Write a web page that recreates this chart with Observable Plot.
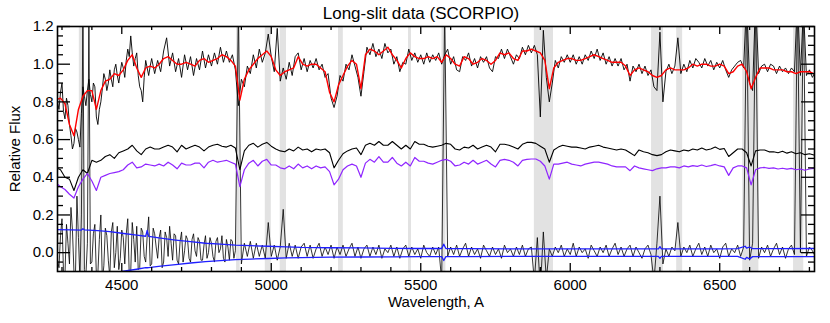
<!DOCTYPE html>
<html><head><meta charset="utf-8">
<script src="https://cdn.jsdelivr.net/npm/d3@7"></script>
<script src="https://cdn.jsdelivr.net/npm/@observablehq/plot@0.6"></script>
<style>body{margin:0;background:#fff}svg{display:block}</style>
</head><body><div id="chart"></div>
<script>
const title = "Long-slit data (SCORPIO)";
const xLabel = "Wavelength, A";
const yLabel = "Relative Flux";
const xMajorTicks = [4500, 5000, 5500, 6000, 6500];
const xMinorTicks = [4300,4400,4600,4700,4800,4900,5100,5200,5300,5400,5600,5700,5800,5900,6100,6200,6300,6400,6600,6700,6800];
const yMajorTicks = [0.0, 0.2, 0.4, 0.6, 0.8, 1.0, 1.2];
const yMinorTicks = [-0.05,0.05,0.1,0.15,0.25,0.3,0.35,0.45,0.5,0.55,0.65,0.7,0.75,0.85,0.9,0.95,1.05,1.1,1.15];

// masked wavelength intervals (grey bands)
const bandStart = [4358, 4884, 4980, 5030, 5225, 5459, 5571, 5880, 6272, 6356, 6577, 6747];
const bandEnd   = [4375, 4896, 5000, 5051, 5241, 5469, 5584, 5944, 6312, 6376, 6631, 6781];

// observed spectrum, 10 A sampling starting at 4280 A
const obsStart = 4280, obsStep = 10;
const obsFlux = [
 .86,.76,.90,.71,.78,.62,.58,.64,.56,.88,
 .78,.92,.80,.88,.68,.80,.95,.86,.97,.88,
 1.00,.90,1.01,.93,1.08,1.15,.99,1.06,.88,.80,
 1.02,.94,1.03,.95,1.02,.96,1.07,1.14,.99,1.06,
 .96,1.03,.93,1.05,.97,1.04,.94,1.03,.97,1.07,
 .98,1.05,.99,1.06,1.00,1.09,1.01,1.07,1.01,1.05,
 .97,.78,.92,.88,.99,.95,1.05,.98,1.08,1.01,
 1.06,1.16,1.04,.96,1.19,.91,.98,.92,1.01,.94,
 1.04,1.06,.97,1.03,.96,1.02,.98,1.03,.97,1.00,
 .93,.95,.82,.77,.83,.94,.91,1.00,.97,1.05,
 .99,.93,.83,.96,1.09,1.05,1.11,1.04,1.08,1.03,
 1.11,1.06,1.08,1.00,1.04,.96,1.01,1.00,1.08,1.02,
 1.06,1.01,1.05,1.00,1.06,1.01,1.05,1.02,1.06,1.00,
 1.05,1.08,1.00,1.04,.97,.96,1.04,1.02,1.06,.99,
 1.03,.98,1.04,1.01,1.04,.98,.96,1.04,1.03,1.08,
 1.03,1.08,1.04,1.00,1.05,1.03,1.09,1.05,1.10,1.06,
 1.10,1.05,.72,1.18,.93,.80,.90,1.02,.98,1.04,
 1.01,1.05,1.01,1.05,1.00,1.04,1.00,1.05,1.02,1.07,
 1.03,1.08,1.02,1.06,1.00,1.04,.99,1.03,.99,1.03,
 .97,1.00,.91,.99,.96,1.00,.95,.99,.94,.97,
 .88,.86,1.17,.80,.96,1.00,.95,.99,1.14,.95,
 1.00,.96,1.02,.98,1.03,1.01,.98,1.03,.99,1.02,
 .97,1.01,.98,1.02,.97,.93,.97,.99,1.01,1.02,
 .98,1.35,.90,.86,1.35,.95,.99,1.00,.96,1.00,
 .99,.95,.99,.96,.98,.95,.98,.96,1.35,.94,
 1.30,.94,.97,.93,.96];
// extra observed samples in the blue part, at 4285, 4295, ... 4595 A
const obsFillStart = 4285;
const obsFill = [
 .80,.85,.75,.82,.68,.55,.66,.60,.74,.83,
 .86,.84,.90,.72,.76,.87,.92,.90,.92,.97,
 .94,.96,.98,1.02,1.04,1.06,1.03,.94,.86,.93,
 .98,.99];

// residuals (observed - model), 10 A sampling
const residFlux = [
 .12,-.08,.18,-.12,.05,.24,-.10,.30,-.14,1.30,
 -.12,1.30,-.05,.15,-.11,.20,-.07,.09,-.13,.16,
 .00,-.09,.12,-.06,.18,-.10,.07,.14,-.08,.11,
 -.05,.19,-.06,.10,-.03,.12,-.05,.08,.14,-.04,
 .09,-.06,.11,.01,.07,-.05,.10,-.02,.06,-.04,
 .09,.00,.05,-.05,.08,.02,-.03,.07,-.04,.06,
 .01,1.30,-.06,.05,-.02,.06,-.03,.05,-.02,.04,
 -.03,.16,-.02,.04,-.04,.03,.23,-.03,.05,-.02,
 .04,-.03,.03,.05,-.02,.04,-.03,.02,.05,-.02,
 .03,-.01,.04,-.03,.03,-.01,.04,-.02,.02,.05,
 -.02,.03,-.03,.02,.04,-.02,.03,-.01,.04,-.03,
 .02,.00,.04,-.02,.03,-.03,.02,.04,-.02,.03,
 -.01,.02,-.03,.04,.00,-.02,.03,-.01,.03,-.15,
 1.30,-.02,.03,-.01,.04,-.02,.02,.05,-.02,.03,
 -.01,.02,-.03,.04,.01,-.02,.03,-.01,.02,-.03,
 .04,.00,.02,-.02,.03,-.01,.04,-.02,.02,.03,
 -.15,.08,-.20,.11,-.14,.02,-.02,.03,.00,.04,
 -.02,.02,-.01,.05,-.02,.03,.00,.02,-.03,.04,
 .01,-.02,.03,.00,.04,-.02,.02,.05,-.01,.03,
 -.02,.02,.04,-.02,.03,.00,-.03,.02,.04,-.01,
 -.15,.05,.30,-.06,.02,-.02,.03,.01,.16,-.02,
 .03,.00,.04,-.02,.02,.05,-.01,.03,-.02,.04,
 .00,.02,-.03,.03,.05,-.02,.02,.00,.04,-.02,
 .03,1.35,-.04,.05,1.35,-.03,.03,.00,.04,-.02,
 .02,.05,-.01,.03,-.03,.02,.04,-.01,1.35,.00,
 1.35,-.02,.03,.01,-.02];
// extra residual samples in the blue part, at 4285, 4295, ... 4875 A
const residFillStart = 4285;
const residFill = [
 -.04,.09,-.10,.15,-.06,.12,-.13,.08,.20,-.09,
 .05,-.06,.10,-.12,.07,-.15,.13,-.04,.11,-.08,
 .14,-.03,.08,.10,-.12,.16,-.05,-.09,.13,-.02,
 .09,-.07,.13,.03,.08,-.08,.11,-.02,.05,.10,
 -.04,.06,-.05,.09,-.03,.07,.01,.08,-.04,.04,
 -.03,.08,-.02,.06,.00,.09,-.05,.03,.07,-.03];

// model and templates, 15 A sampling starting at 4280 A
const modStart = 4280, modStep = 15;
const modelFlux = [
 .81,.82,.79,.68,.62,.76,.83,.86,.86,.76,
 .86,.91,.92,.95,.94,.97,1.02,1.05,.98,.93,
 .98,.99,.98,1.00,1.03,1.04,1.02,1.00,1.00,1.01,
 1.00,.99,1.02,1.03,1.01,1.02,1.03,1.05,1.04,1.02,
 .99,.81,.92,.97,1.00,1.03,1.05,1.07,1.04,.97,
 .94,.96,.97,.98,1.04,1.00,.99,1.00,1.00,.98,
 .96,.85,.80,.89,.94,.99,1.02,1.00,.87,1.05,
 1.08,1.07,1.05,1.07,1.09,1.05,1.02,.98,1.03,1.06,
 1.04,1.03,1.03,1.04,1.03,1.04,1.01,1.05,1.03,1.00,
 .99,1.04,1.03,1.00,1.01,1.03,1.02,1.00,1.02,1.06,
 1.05,1.06,1.03,1.02,1.07,1.07,1.08,1.07,1.06,1.02,
 .87,.98,1.01,1.02,1.03,1.03,1.02,1.02,1.03,1.04,
 1.05,1.04,1.03,1.02,1.01,1.01,1.01,.99,.94,.97,
 .98,.97,.96,.94,.93,.94,.97,.98,.97,.97,
 .97,.98,1.00,.99,1.00,1.00,.99,.99,1.00,.99,
 .95,.96,.99,1.00,.96,.87,.93,.98,.98,.98,
 .97,.97,.97,.96,.96,.95,.96,.96,.96,.95,
 .95];

const starFlux = [
 .45,.44,.40,.39,.33,.40,.44,.42,.49,.48,
 .49,.51,.52,.50,.53,.54,.55,.57,.54,.52,
 .55,.56,.55,.55,.56,.57,.56,.535,.57,.55,
 .56,.57,.56,.54,.56,.57,.575,.565,.56,.57,
 .555,.44,.54,.57,.58,.56,.575,.585,.565,.55,
 .54,.535,.55,.54,.56,.545,.55,.535,.55,.545,
 .55,.53,.45,.49,.525,.54,.55,.555,.52,.57,
 .58,.57,.59,.57,.57,.59,.57,.55,.57,.55,
 .59,.575,.575,.565,.56,.565,.57,.58,.575,.55,
 .545,.56,.555,.57,.55,.56,.57,.56,.535,.575,
 .575,.57,.56,.55,.575,.585,.585,.58,.565,.55,
 .48,.545,.56,.57,.565,.56,.56,.555,.55,.56,
 .565,.57,.56,.555,.55,.545,.55,.545,.53,.515,
 .545,.535,.53,.52,.515,.52,.535,.545,.54,.535,
 .545,.54,.55,.545,.555,.545,.55,.56,.548,.553,
 .51,.53,.55,.55,.53,.46,.54,.545,.545,.535,
 .535,.53,.538,.528,.535,.525,.53,.52,.525,.518,
 .52];

const templFlux = [
 .37,.35,.335,.31,.29,.35,.39,.42,.38,.33,
 .40,.41,.42,.425,.43,.44,.465,.48,.45,.455,
 .47,.465,.46,.47,.46,.48,.465,.445,.475,.465,
 .465,.475,.475,.45,.48,.49,.48,.485,.49,.48,
 .47,.35,.44,.475,.49,.46,.485,.495,.465,.465,
 .45,.445,.46,.445,.47,.45,.46,.445,.46,.45,
 .455,.43,.36,.39,.44,.46,.47,.46,.40,.475,
 .495,.48,.51,.48,.48,.505,.475,.46,.48,.46,
 .505,.485,.485,.475,.47,.48,.49,.495,.485,.46,
 .465,.48,.47,.49,.47,.48,.49,.47,.455,.49,
 .495,.49,.48,.46,.49,.495,.497,.497,.485,.46,
 .39,.47,.47,.475,.48,.47,.465,.46,.47,.475,
 .48,.48,.475,.47,.46,.455,.455,.455,.435,.46,
 .45,.445,.44,.435,.445,.45,.45,.455,.455,.45,
 .46,.455,.462,.458,.465,.457,.462,.468,.46,.455,
 .41,.45,.46,.46,.45,.36,.44,.45,.452,.447,
 .45,.444,.448,.443,.447,.44,.444,.437,.444,.447,
 .447];

// error envelope
const errWave = [4280,4330,4365,4370,4375,4420,4460,4500,4550,4580,4585,4590,4630,4680,4730,4780,4830,4880,4930,4990,5050,5100,5200,5300,5400,5500,5570,5577,5584,5650,5800,6000,6200,6295,6300,6305,6400,6500,6560,6585,6590,6600,6610,6700,6820];
const errUpper = [0.122,0.121,0.120,0.127,0.121,0.117,0.112,0.103,0.093,0.087,0.118,0.086,0.077,0.067,0.058,0.050,0.045,0.040,0.037,0.034,0.031,0.028,0.026,0.025,0.023,0.022,0.022,0.045,0.022,0.021,0.020,0.020,0.020,0.020,0.032,0.020,0.020,0.020,0.021,0.034,0.024,0.030,0.021,0.021,0.022];
const errLower = [-0.125,-0.124,-0.123,-0.123,-0.122,-0.117,-0.110,-0.100,-0.088,-0.080,-0.080,-0.079,-0.072,-0.063,-0.055,-0.048,-0.042,-0.037,-0.034,-0.031,-0.028,-0.026,-0.024,-0.023,-0.022,-0.021,-0.021,-0.042,-0.021,-0.021,-0.020,-0.020,-0.020,-0.020,-0.030,-0.020,-0.020,-0.020,-0.020,-0.035,-0.025,-0.033,-0.021,-0.021,-0.021];

// tables
const byW = (a, b) => a.w - b.w;
const obs = obsFlux.map((f, i) => ({w: obsStart + obsStep * i, f}))
  .concat(obsFill.map((f, i) => ({w: obsFillStart + obsStep * i, f}))).sort(byW);
const resid = residFlux.map((f, i) => ({w: obsStart + obsStep * i, f}))
  .concat(residFill.map((f, i) => ({w: residFillStart + obsStep * i, f}))).sort(byW);
const model = modelFlux.map((f, i) => ({w: modStart + modStep * i, f}));
const star = starFlux.map((f, i) => ({w: modStart + modStep * i, f}));
const templ = templFlux.map((f, i) => ({w: modStart + modStep * i, f}));
const errU = errWave.map((w, i) => ({w, f: errUpper[i]}));
const errL = errWave.map((w, i) => ({w, f: errLower[i]}));
const bands = bandStart.map((a, i) => ({a, b: bandEnd[i]}));

const W = 830, H = 323, mL = 57, mR = 16, mT = 26, mB = 52;
const fw = W - mL - mR, fh = H - mT - mB;
const font = "'Liberation Sans', Arial, Helvetica, sans-serif";

const chart = Plot.plot({
  width: W, height: H,
  marginLeft: mL, marginRight: mR, marginTop: mT, marginBottom: mB,
  x: {domain: [4285, 6817], label: null},
  y: {domain: [-0.1, 1.2], label: null},
  style: {fontFamily: font, fontSize: "15px", color: "black", background: "white"},
  marks: [
    Plot.rect(bands, {x1: "a", x2: "b", fill: "#e2e2e2"}),
    Plot.line(resid, {x: "w", y: "f", stroke: "black", strokeWidth: 0.8, clip: true}),
    Plot.line(obs, {x: "w", y: "f", stroke: "black", strokeWidth: 0.9, clip: true}),
    Plot.line(star, {x: "w", y: "f", stroke: "black", strokeWidth: 1.1, clip: true}),
    Plot.line(templ, {x: "w", y: "f", stroke: "#8f25ff", strokeWidth: 1.2, clip: true}),
    Plot.line(model, {x: "w", y: "f", stroke: "#ff0000", strokeWidth: 1.4, clip: true}),
    Plot.line(errU, {x: "w", y: "f", stroke: "#1f1fff", strokeWidth: 1.3, clip: true}),
    Plot.line(errL, {x: "w", y: "f", stroke: "#1f1fff", strokeWidth: 1.3, clip: true}),
    // inward ticks
    Plot.tickX(xMajorTicks, {x: d => d, insetTop: fh - 8, stroke: "black", strokeWidth: 1.3}),
    Plot.tickX(xMajorTicks, {x: d => d, insetBottom: fh - 8, stroke: "black", strokeWidth: 1.3}),
    Plot.tickX(xMinorTicks, {x: d => d, insetTop: fh - 4, stroke: "black", strokeWidth: 1.3}),
    Plot.tickX(xMinorTicks, {x: d => d, insetBottom: fh - 4, stroke: "black", strokeWidth: 1.3}),
    Plot.tickY(yMajorTicks, {y: d => d, insetRight: fw - 13, stroke: "black", strokeWidth: 1.3}),
    Plot.tickY(yMajorTicks, {y: d => d, insetLeft: fw - 13, stroke: "black", strokeWidth: 1.3}),
    Plot.tickY(yMinorTicks, {y: d => d, insetRight: fw - 6, stroke: "black", strokeWidth: 1.3}),
    Plot.tickY(yMinorTicks, {y: d => d, insetLeft: fw - 6, stroke: "black", strokeWidth: 1.3}),
    Plot.frame({stroke: "black", strokeWidth: 1.6}),
    Plot.axisX(xMajorTicks, {anchor: "bottom", tickSize: 0, tickPadding: 8, tickFormat: d3.format("d"), fontSize: 15, label: null}),
    Plot.axisY(yMajorTicks, {anchor: "left", tickSize: 0, tickPadding: 4, tickFormat: d3.format(".1f"), fontSize: 15, label: null}),
    Plot.text([title], {text: d => d, frameAnchor: "top", lineAnchor: "middle", textAnchor: "middle", dx: -15, dy: -13, fontSize: 17, fill: "black"}),
    Plot.text([xLabel], {text: d => d, frameAnchor: "bottom", lineAnchor: "middle", textAnchor: "middle", dy: 31, fontSize: 15, fill: "black"}),
    Plot.text([yLabel], {text: d => d, frameAnchor: "left", lineAnchor: "middle", textAnchor: "middle", dx: -42, rotate: -90, fontSize: 15, fill: "black"})
  ]
});
document.getElementById("chart").appendChild(chart);
</script>
</body></html>
